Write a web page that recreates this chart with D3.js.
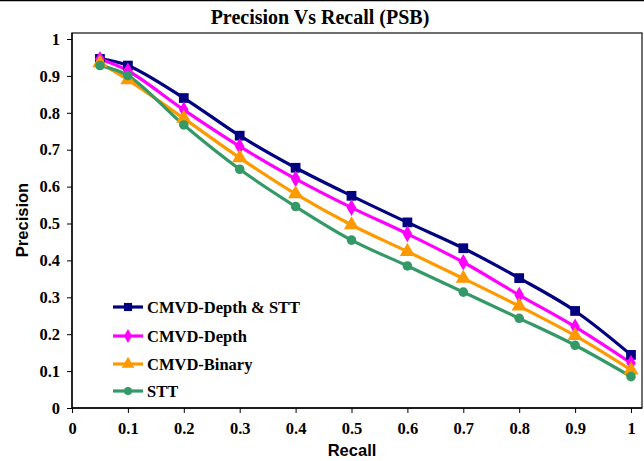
<!DOCTYPE html>
<html>
<head>
<meta charset="utf-8">
<script src="https://cdn.jsdelivr.net/npm/d3@7"></script>
<style>
  html, body { margin: 0; padding: 0; background: #fff; }
  svg { display: block; }
</style>
</head>
<body>
<svg id="chart" width="644" height="461"></svg>
<script>
const recall = [0.05, 0.1, 0.2, 0.3, 0.4, 0.5, 0.6, 0.7, 0.8, 0.9, 1.0];
const seriesNames = ["CMVD-Depth & STT", "CMVD-Depth", "CMVD-Binary", "STT"];
const depthSTT = [0.946, 0.928, 0.840, 0.738, 0.651, 0.575, 0.503, 0.433, 0.352, 0.263, 0.144];
const depth    = [0.945, 0.914, 0.808, 0.709, 0.621, 0.543, 0.472, 0.395, 0.306, 0.220, 0.122];
const binary   = [0.935, 0.889, 0.785, 0.678, 0.580, 0.496, 0.424, 0.351, 0.276, 0.196, 0.103];
const stt      = [0.928, 0.901, 0.767, 0.647, 0.546, 0.455, 0.385, 0.314, 0.243, 0.170, 0.085];
const xTicks = [0, 0.1, 0.2, 0.3, 0.4, 0.5, 0.6, 0.7, 0.8, 0.9, 1];
const yTicks = [0, 0.1, 0.2, 0.3, 0.4, 0.5, 0.6, 0.7, 0.8, 0.9, 1];

const colors = ["#000080", "#FF00FF", "#FF9900", "#339966"];
const symbols = [d3.symbolSquare, d3.symbolDiamond, d3.symbolTriangle, d3.symbolCircle];
const symSizes = [95, 80, 100, 72];
const allSeries = [depthSTT, depth, binary, stt];

const svg = d3.select("#chart");
const W = 644, H = 461;
const frame = {left: 72, top: 33, right: 642, bottom: 408};

const x = d3.scaleLinear().domain([0, 1]).range([72, 631]);
const y = d3.scaleLinear().domain([0, 1]).range([408, 39]);

const serif = "'Liberation Serif', 'Times New Roman', serif";
const sans = "'Liberation Sans', Arial, sans-serif";

// top border line of figure
svg.append("line").attr("x1", 0).attr("x2", W).attr("y1", 0.5).attr("y2", 0.5)
  .attr("stroke", "#000").attr("stroke-width", 1.5);

// plot frame
svg.append("rect")
  .attr("x", frame.left).attr("y", frame.top)
  .attr("width", frame.right - frame.left).attr("height", frame.bottom - frame.top)
  .attr("fill", "none").attr("stroke", "#222").attr("stroke-width", 1.3);

// title
svg.append("text")
  .attr("x", 320).attr("y", 24)
  .attr("text-anchor", "middle")
  .style("font-family", serif).style("font-weight", "bold").style("font-size", "20px")
  .text("Precision Vs Recall (PSB)");

// axes
const fmt = d => d === 0 ? "0" : d === 1 ? "1" : d3.format(".1f")(d);
const xAxis = d3.axisBottom(x).tickValues(xTicks).tickSize(5).tickPadding(9).tickFormat(fmt);
const gx = svg.append("g").attr("transform", `translate(0,${frame.bottom})`).call(xAxis);
gx.select(".domain").attr("d", `M${frame.left},0H${frame.right}`).attr("stroke", "#000").attr("stroke-width", 1.3);
gx.selectAll(".tick line").attr("stroke", "#000").attr("stroke-width", 1);
gx.selectAll(".tick text").style("font-family", serif).style("font-weight", "bold")
  .style("font-size", "16.5px").attr("fill", "#000");

const yAxis = d3.axisLeft(y).tickValues(yTicks).tickSize(5).tickPadding(7).tickFormat(fmt);
const gy = svg.append("g").attr("transform", `translate(${frame.left},0)`).call(yAxis);
gy.select(".domain").attr("d", `M0,${frame.top}V${frame.bottom}`).attr("stroke", "#000").attr("stroke-width", 1.3);
gy.selectAll(".tick line").attr("stroke", "#000").attr("stroke-width", 1);
gy.selectAll(".tick text").style("font-family", serif).style("font-weight", "bold")
  .style("font-size", "16.5px").attr("fill", "#000");

// axis titles
svg.append("text")
  .attr("x", 352).attr("y", 456)
  .attr("text-anchor", "middle")
  .style("font-family", sans).style("font-weight", "bold").style("font-size", "16.5px")
  .text("Recall");
svg.append("text")
  .attr("transform", `translate(28,220) rotate(-90)`)
  .attr("text-anchor", "middle")
  .style("font-family", sans).style("font-weight", "bold").style("font-size", "16.5px")
  .text("Precision");

// lines
const line = d3.line().x((d, i) => x(recall[i])).y(d => y(d)).curve(d3.curveCatmullRom.alpha(0.5));

allSeries.forEach((vals, si) => {
  svg.append("path").datum(vals)
    .attr("d", line)
    .attr("fill", "none").attr("stroke", colors[si]).attr("stroke-width", 3.2)
    .attr("stroke-linejoin", "round");
});
allSeries.forEach((vals, si) => {
  const sym = d3.symbol().type(symbols[si]).size(symSizes[si]);
  svg.append("g").selectAll("path").data(vals).join("path")
    .attr("transform", (d, i) => `translate(${x(recall[i])},${y(d)})`)
    .attr("d", sym)
    .attr("fill", colors[si]);
});

// legend
const legY = [307, 336, 364, 391];
seriesNames.forEach((name, si) => {
  const g = svg.append("g").attr("transform", `translate(0,${legY[si]})`);
  g.append("line").attr("x1", 113).attr("x2", 143).attr("y1", 0).attr("y2", 0)
    .attr("stroke", colors[si]).attr("stroke-width", 3.2);
  g.append("path").attr("transform", "translate(128,0)")
    .attr("d", d3.symbol().type(symbols[si]).size(symSizes[si] * 0.7)())
    .attr("fill", colors[si]);
  g.append("text").attr("x", 147).attr("y", 6)
    .style("font-family", serif).style("font-weight", "bold").style("font-size", "16.5px")
    .text(name);
});
</script>
</body>
</html>
